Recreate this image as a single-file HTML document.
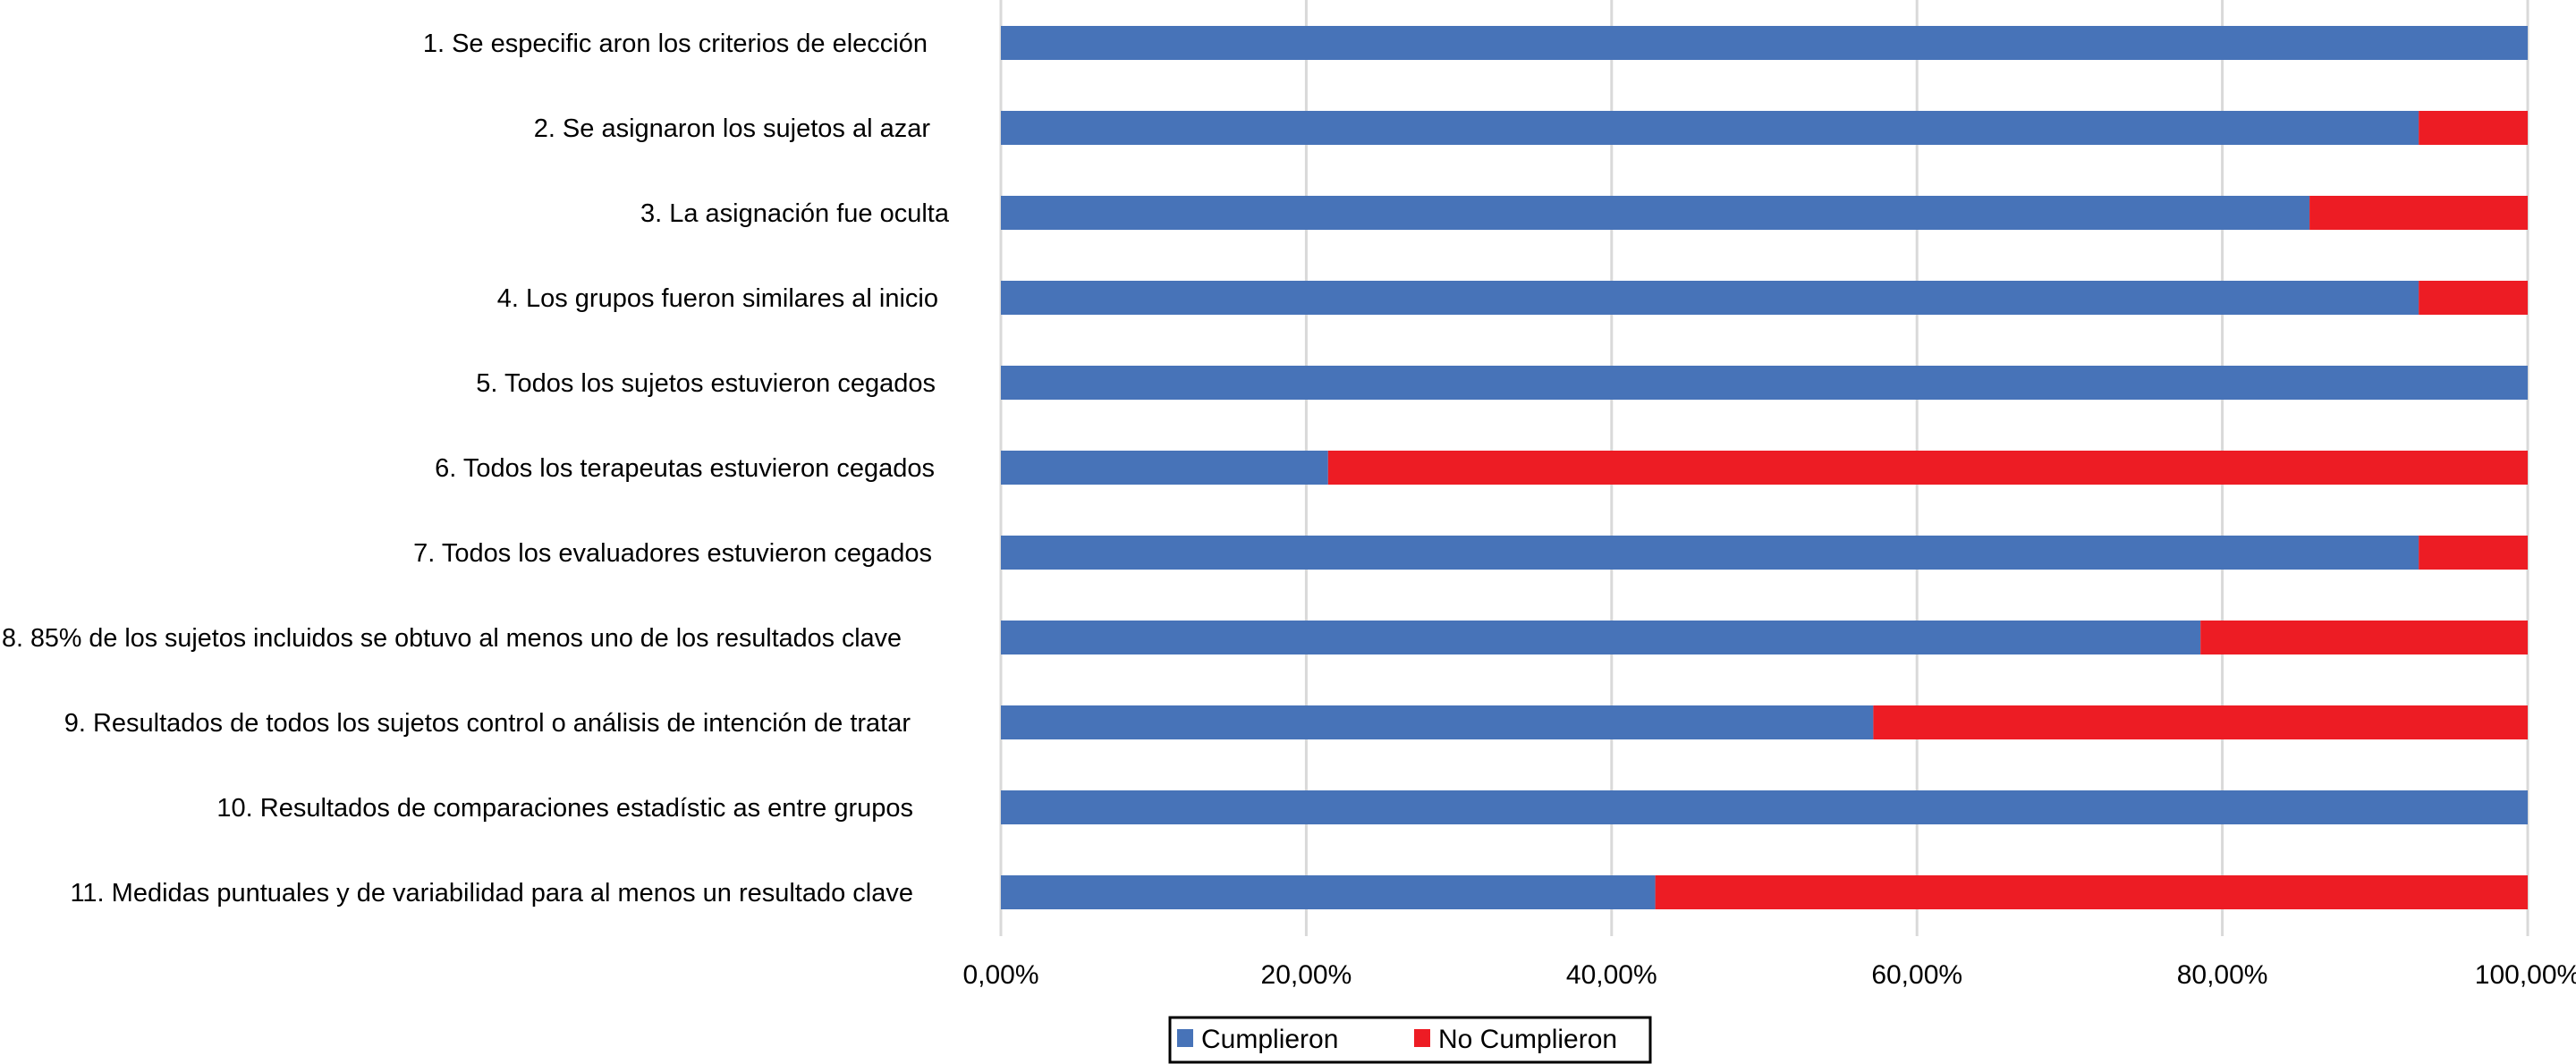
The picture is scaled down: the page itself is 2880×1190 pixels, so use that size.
<!DOCTYPE html>
<html><head><meta charset="utf-8">
<style>
html,body{margin:0;padding:0;background:#fff;}
svg{display:block;font-family:"Liberation Sans",sans-serif;}
</style></head>
<body>
<svg id="chart" width="2880" height="1190" viewBox="0 0 2880 1190" xmlns="http://www.w3.org/2000/svg">
<g id="grid"></g>
<g id="bars"></g>
<g id="cats"></g>
<g id="ticks"></g>
<g>
  <rect x="1308" y="1138" width="537" height="50" fill="#fff" stroke="#000" stroke-width="3"/>
  <rect x="1316" y="1151" width="18" height="20" fill="#4773b8"/>
  <text x="1343" y="1172" font-size="30" fill="#000">Cumplieron</text>
  <rect x="1581" y="1151" width="18" height="20" fill="#ed1c24"/>
  <text x="1608" y="1172" font-size="30" fill="#000">No Cumplieron</text>
</g>
</svg>
<script>
const categories = [
"1. Se especific aron los criterios de elección",
"2. Se asignaron los sujetos al azar",
"3. La asignación fue oculta",
"4. Los grupos fueron similares al inicio",
"5. Todos los sujetos estuvieron cegados",
"6. Todos los terapeutas estuvieron cegados",
"7. Todos los evaluadores estuvieron cegados",
"8. 85% de los sujetos incluidos se obtuvo al menos uno de los resultados clave",
"9. Resultados de todos los sujetos control o análisis de intención de tratar",
"10. Resultados de comparaciones estadístic as entre grupos",
"11. Medidas puntuales y de variabilidad para al menos un resultado clave"
];
const cumplieron = [100, 92.86, 85.71, 92.86, 100, 21.43, 92.86, 78.57, 57.14, 100, 42.86];
const noCumplieron = [0, 7.14, 14.29, 7.14, 0, 78.57, 7.14, 21.43, 42.86, 0, 57.14];
const tickValues = [0, 20, 40, 60, 80, 100];
const tickLabels = ["0,00%", "20,00%", "40,00%", "60,00%", "80,00%", "100,00%"];

const NS = "http://www.w3.org/2000/svg";
const x0 = 1119, x1 = 2826;
const xScale = v => x0 + (x1 - x0) * v / 100;
const top0 = 29, pitch = 95, barH = 38;
const yBand = i => top0 + i * pitch;
const labelRight = [1037,1040,1061,1049,1046,1045,1042,1008,1018,1021,1021];

function mk(tag, attrs, parent){
  const e = document.createElementNS(NS, tag);
  for (const k in attrs) e.setAttribute(k, attrs[k]);
  parent.appendChild(e);
  return e;
}
const grid = document.getElementById('grid');
const bars = document.getElementById('bars');
const cats = document.getElementById('cats');
const ticks = document.getElementById('ticks');

tickValues.forEach((v, i) => {
  const x = xScale(v);
  const l = mk('line', {x1: x, x2: x, y1: 0, y2: 1047, stroke: '#d9d9d9', 'stroke-width': 3}, grid);
  
  
  const t = mk('text', {x: x, y: 1100, 'font-size': 30, 'text-anchor': 'middle', fill: '#000'}, ticks);
  t.textContent = tickLabels[i];
  
  
});

categories.forEach((c, i) => {
  const y = yBand(i);
  const b = mk('rect', {x: xScale(0), y: y, width: xScale(cumplieron[i]) - xScale(0), height: barH, fill: '#4773b8'}, bars);
  
  
  const r = mk('rect', {x: xScale(cumplieron[i]), y: y, width: xScale(cumplieron[i] + noCumplieron[i]) - xScale(cumplieron[i]), height: barH, fill: '#ed1c24'}, bars);
  
  
  const t = mk('text', {x: labelRight[i], y: y + barH / 2 + 10, 'font-size': 29, 'text-anchor': 'end', fill: '#000'}, cats);
  t.textContent = c;
  
  
  const w = t.getComputedTextLength();
  const maxW = labelRight[i] - 2;
  if (w > maxW) { t.setAttribute('textLength', maxW); t.setAttribute('lengthAdjust', 'spacingAndGlyphs'); }
});
</script>
</body></html>
